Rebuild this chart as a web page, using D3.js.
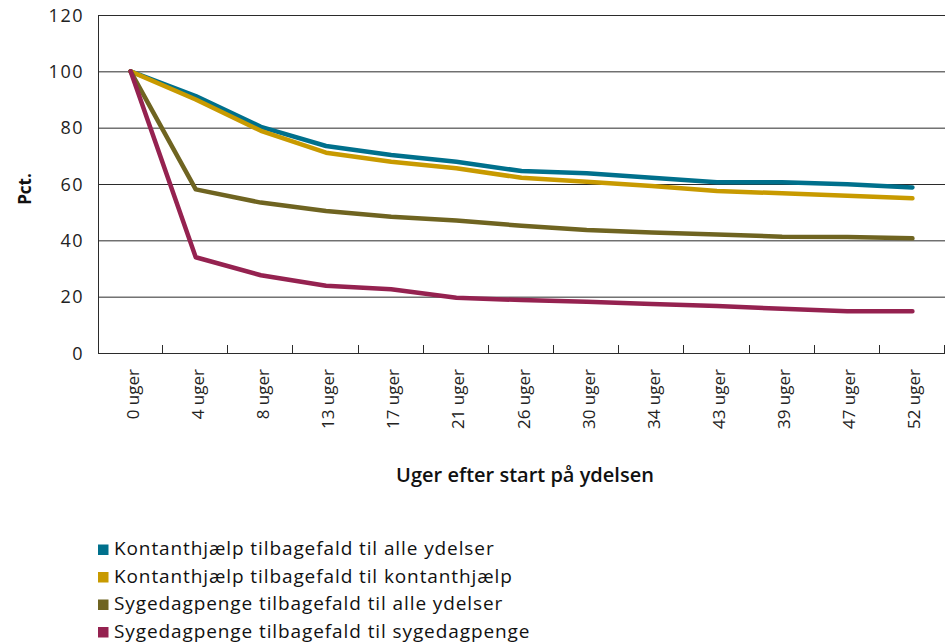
<!DOCTYPE html>
<html>
<head>
<meta charset="utf-8">
<script src="https://cdn.jsdelivr.net/npm/d3@7"></script>
<style>
  body { margin: 0; background: #fff; }
  svg { display: block; font-family: "Open Sans", sans-serif; }
</style>
</head>
<body>
<div id="chart"></div>
<script>
var svgWidth = 945;
var svgHeight = 643;

var margin = { top: 15, right: 0, bottom: 290, left: 98 };
var width = svgWidth - margin.left - margin.right;
var height = svgHeight - margin.top - margin.bottom;

// categories (order as in the original)
var weeks = ["0 uger", "4 uger", "8 uger", "13 uger", "17 uger", "21 uger", "26 uger",
  "30 uger", "34 uger", "43 uger", "39 uger", "47 uger", "52 uger"];

var yTicks = [0, 20, 40, 60, 80, 100, 120];

var seriesNames = [
  "Kontanthjælp tilbagefald til alle ydelser",
  "Kontanthjælp tilbagefald til kontanthjælp",
  "Sygedagpenge tilbagefald til alle ydelser",
  "Sygedagpenge tilbagefald til sygedagpenge"
];
var seriesColors = ["#00708c", "#c89a00", "#6f6421", "#952250"];

var kontantAlle = [100, 91.2, 80.3, 73.5, 70.3, 67.9, 64.6, 63.8, 62.2, 60.6, 60.6, 59.9, 58.8];
var kontantKontant = [100, 90.0, 78.9, 71.1, 67.9, 65.6, 62.2, 60.8, 59.3, 57.5, 56.7, 55.8, 54.9];
var sygeAlle = [100, 58.1, 53.4, 50.4, 48.4, 47.0, 45.2, 43.7, 42.8, 42.1, 41.3, 41.2, 40.7];
var sygeSyge = [100, 34.0, 27.6, 23.9, 22.6, 19.6, 18.8, 18.2, 17.4, 16.7, 15.7, 14.8, 14.8];

var allSeries = [kontantAlle, kontantKontant, sygeAlle, sygeSyge];

var svg = d3.select("#chart")
  .append("svg")
  .attr("width", svgWidth)
  .attr("height", svgHeight);

var chartGroup = svg.append("g")
  .attr("transform", `translate(${margin.left}, ${margin.top})`);

var xScale = d3.scaleBand()
  .domain(weeks)
  .range([0, width]);

var yScale = d3.scaleLinear()
  .domain([0, 120])
  .range([height, 0]);

// gridlines
chartGroup.selectAll(".grid")
  .data(yTicks.filter(d => d > 0))
  .enter()
  .append("line")
  .attr("x1", 0)
  .attr("x2", width)
  .attr("y1", d => yScale(d) + 0.5)
  .attr("y2", d => yScale(d) + 0.5)
  .attr("stroke", "#2b2b2b")
  .attr("stroke-width", 1);

// y axis line + labels
chartGroup.append("line")
  .attr("x1", 0.5).attr("x2", 0.5)
  .attr("y1", 0).attr("y2", height)
  .attr("stroke", "#2b2b2b");

chartGroup.selectAll(".ylab")
  .data(yTicks)
  .enter()
  .append("text")
  .attr("x", -14)
  .attr("y", d => yScale(d) + 6.5)
  .attr("text-anchor", "end")
  .attr("font-size", "18px")
  .attr("letter-spacing", "1.5px")
  .attr("fill", "#222")
  .text(d => d);

// x axis: baseline and band boundary ticks
chartGroup.append("line")
  .attr("x1", 0).attr("x2", width)
  .attr("y1", height + 0.5).attr("y2", height + 0.5)
  .attr("stroke", "#2b2b2b");

var boundaries = weeks.map(d => xScale(d)).concat([width]);
chartGroup.selectAll(".xtick")
  .data(boundaries.slice(1))
  .enter()
  .append("line")
  .attr("x1", d => Math.round(d) - 0.5)
  .attr("x2", d => Math.round(d) - 0.5)
  .attr("y1", height - 8)
  .attr("y2", height)
  .attr("stroke", "#2b2b2b");

chartGroup.selectAll(".xlab")
  .data(weeks)
  .enter()
  .append("text")
  .attr("transform", d => `translate(${xScale(d) + xScale.bandwidth() / 2 + 8}, ${height + 16}) rotate(-90)`)
  .attr("text-anchor", "end")
  .attr("font-size", "17px")
  .attr("fill", "#222")
  .text(d => d);

// lines
var line = d3.line()
  .x((d, i) => xScale(weeks[i]) + xScale.bandwidth() / 2)
  .y(d => yScale(d));

chartGroup.selectAll(".series")
  .data(allSeries)
  .enter()
  .append("path")
  .attr("d", d => line(d))
  .attr("fill", "none")
  .attr("stroke", (d, i) => seriesColors[i])
  .attr("stroke-width", 4.5)
  .attr("stroke-linejoin", "round")
  .attr("stroke-linecap", "round");

// axis titles
svg.append("text")
  .attr("transform", `translate(31, 189) rotate(-90)`)
  .attr("text-anchor", "middle")
  .attr("font-size", "17px")
  .attr("font-weight", "bold")
  .attr("fill", "#111")
  .text("Pct.");

svg.append("text")
  .attr("x", 525)
  .attr("y", 482)
  .attr("text-anchor", "middle")
  .attr("font-size", "20px")
  .attr("font-weight", "600")
  .attr("fill", "#111")
  .text("Uger efter start på ydelsen");

// legend
var legend = svg.selectAll(".legend")
  .data(seriesNames)
  .enter()
  .append("g")
  .attr("transform", (d, i) => `translate(98, ${555 + i * 27.5})`);

legend.append("rect")
  .attr("y", -10.5)
  .attr("width", 10.5)
  .attr("height", 10.5)
  .attr("fill", (d, i) => seriesColors[i]);

legend.append("text")
  .attr("x", 16)
  .attr("y", 0)
  .attr("font-size", "19px")
  .attr("letter-spacing", "0.9px")
  .attr("fill", "#111")
  .text(d => d);
</script>
</body>
</html>
